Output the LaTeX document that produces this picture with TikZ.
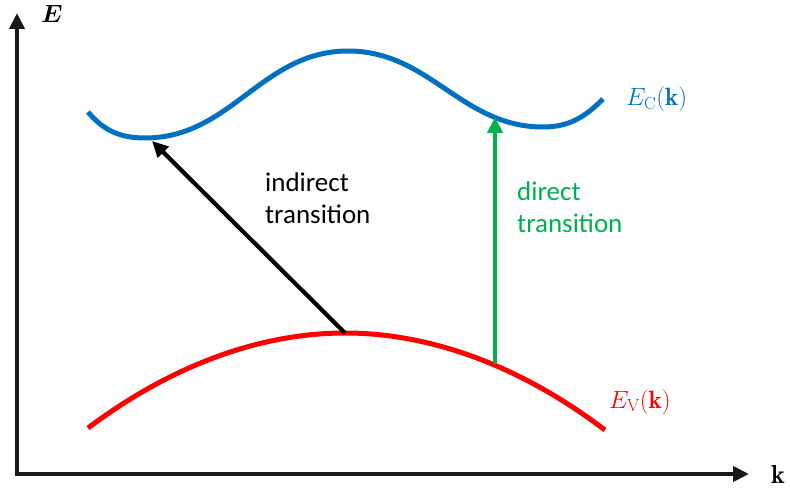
\documentclass[tikz,border=0pt]{standalone}
\usepackage{amsmath}
\usepackage{fontspec}
\newfontfamily\labelfont{Carlito}
\usetikzlibrary{arrows.meta,positioning,calc}

\definecolor{ecblue}{RGB}{0,112,192}
\definecolor{evred}{RGB}{255,0,0}
\definecolor{trgreen}{RGB}{0,176,80}

\begin{document}
\begin{tikzpicture}[
            x=1pt, y=1pt,
            >={Triangle[width=15pt,length=16pt]},
            axisline/.style={line width=4.5pt, black!90, ->},
            bandline/.style={line width=5pt},
            transarrow/.style={line width=4.2pt, ->},
            tlabel/.style={font=\labelfont\fontsize{27}{32}\selectfont, align=left, inner sep=0pt, anchor=base west},
            blabel/.style={font=\fontsize{25}{30}\selectfont, inner sep=0pt, anchor=base west}
        ]
            \useasboundingbox (0,0) rectangle (790,-492);

            \coordinate (O) at (17,-474);
            \coordinate (ytip) at (17,-13);
            \coordinate (xtip) at (749,-474);
            \coordinate (vtop) at (345,-333);
            \coordinate (cmin) at (152,-141);
            \coordinate (gstart) at (495,-364);
            \coordinate (gend) at (495,-117);

            % axes
            \draw[axisline] (O) -- (ytip);
            \draw[axisline] ([xshift=-2.25pt]O) -- (xtip);
            \node[font=\fontsize{26}{30}\selectfont] (Elab) at (52,-14) {$\boldsymbol{E}$};
            \node[font=\fontsize{26}{30}\selectfont] (klab) at (778,-474) {$\mathbf{k}$};

            % bands
            \draw[bandline, ecblue] (88,-112) to[out=-50,in=180] (145,-138)
                to[out=0,in=180] (348,-51) to[out=0,in=180] (543,-127)
                to[out=0,in=-135] (603,-99);
            \draw[bandline, evred] (88,-428) parabola bend (345,-333) (605,-430);

            \node[blabel, text=ecblue] (EC) at (626,-106) {$E_{\mathrm{C}}(\mathbf{k})$};
            \node[blabel, text=evred] (EV) at (609,-408) {$E_{\mathrm{V}}(\mathbf{k})$};

            % transitions
            \draw[transarrow, black] (vtop) -- (cmin);
            \draw[transarrow, trgreen] (gstart) -- (gend);

            \node[tlabel] (indirect) at (265,-223) {indirect\\transition};
            \node[tlabel, text=trgreen] (direct) at (517,-232) {direct\\transition};
        \end{tikzpicture}
\end{document}
